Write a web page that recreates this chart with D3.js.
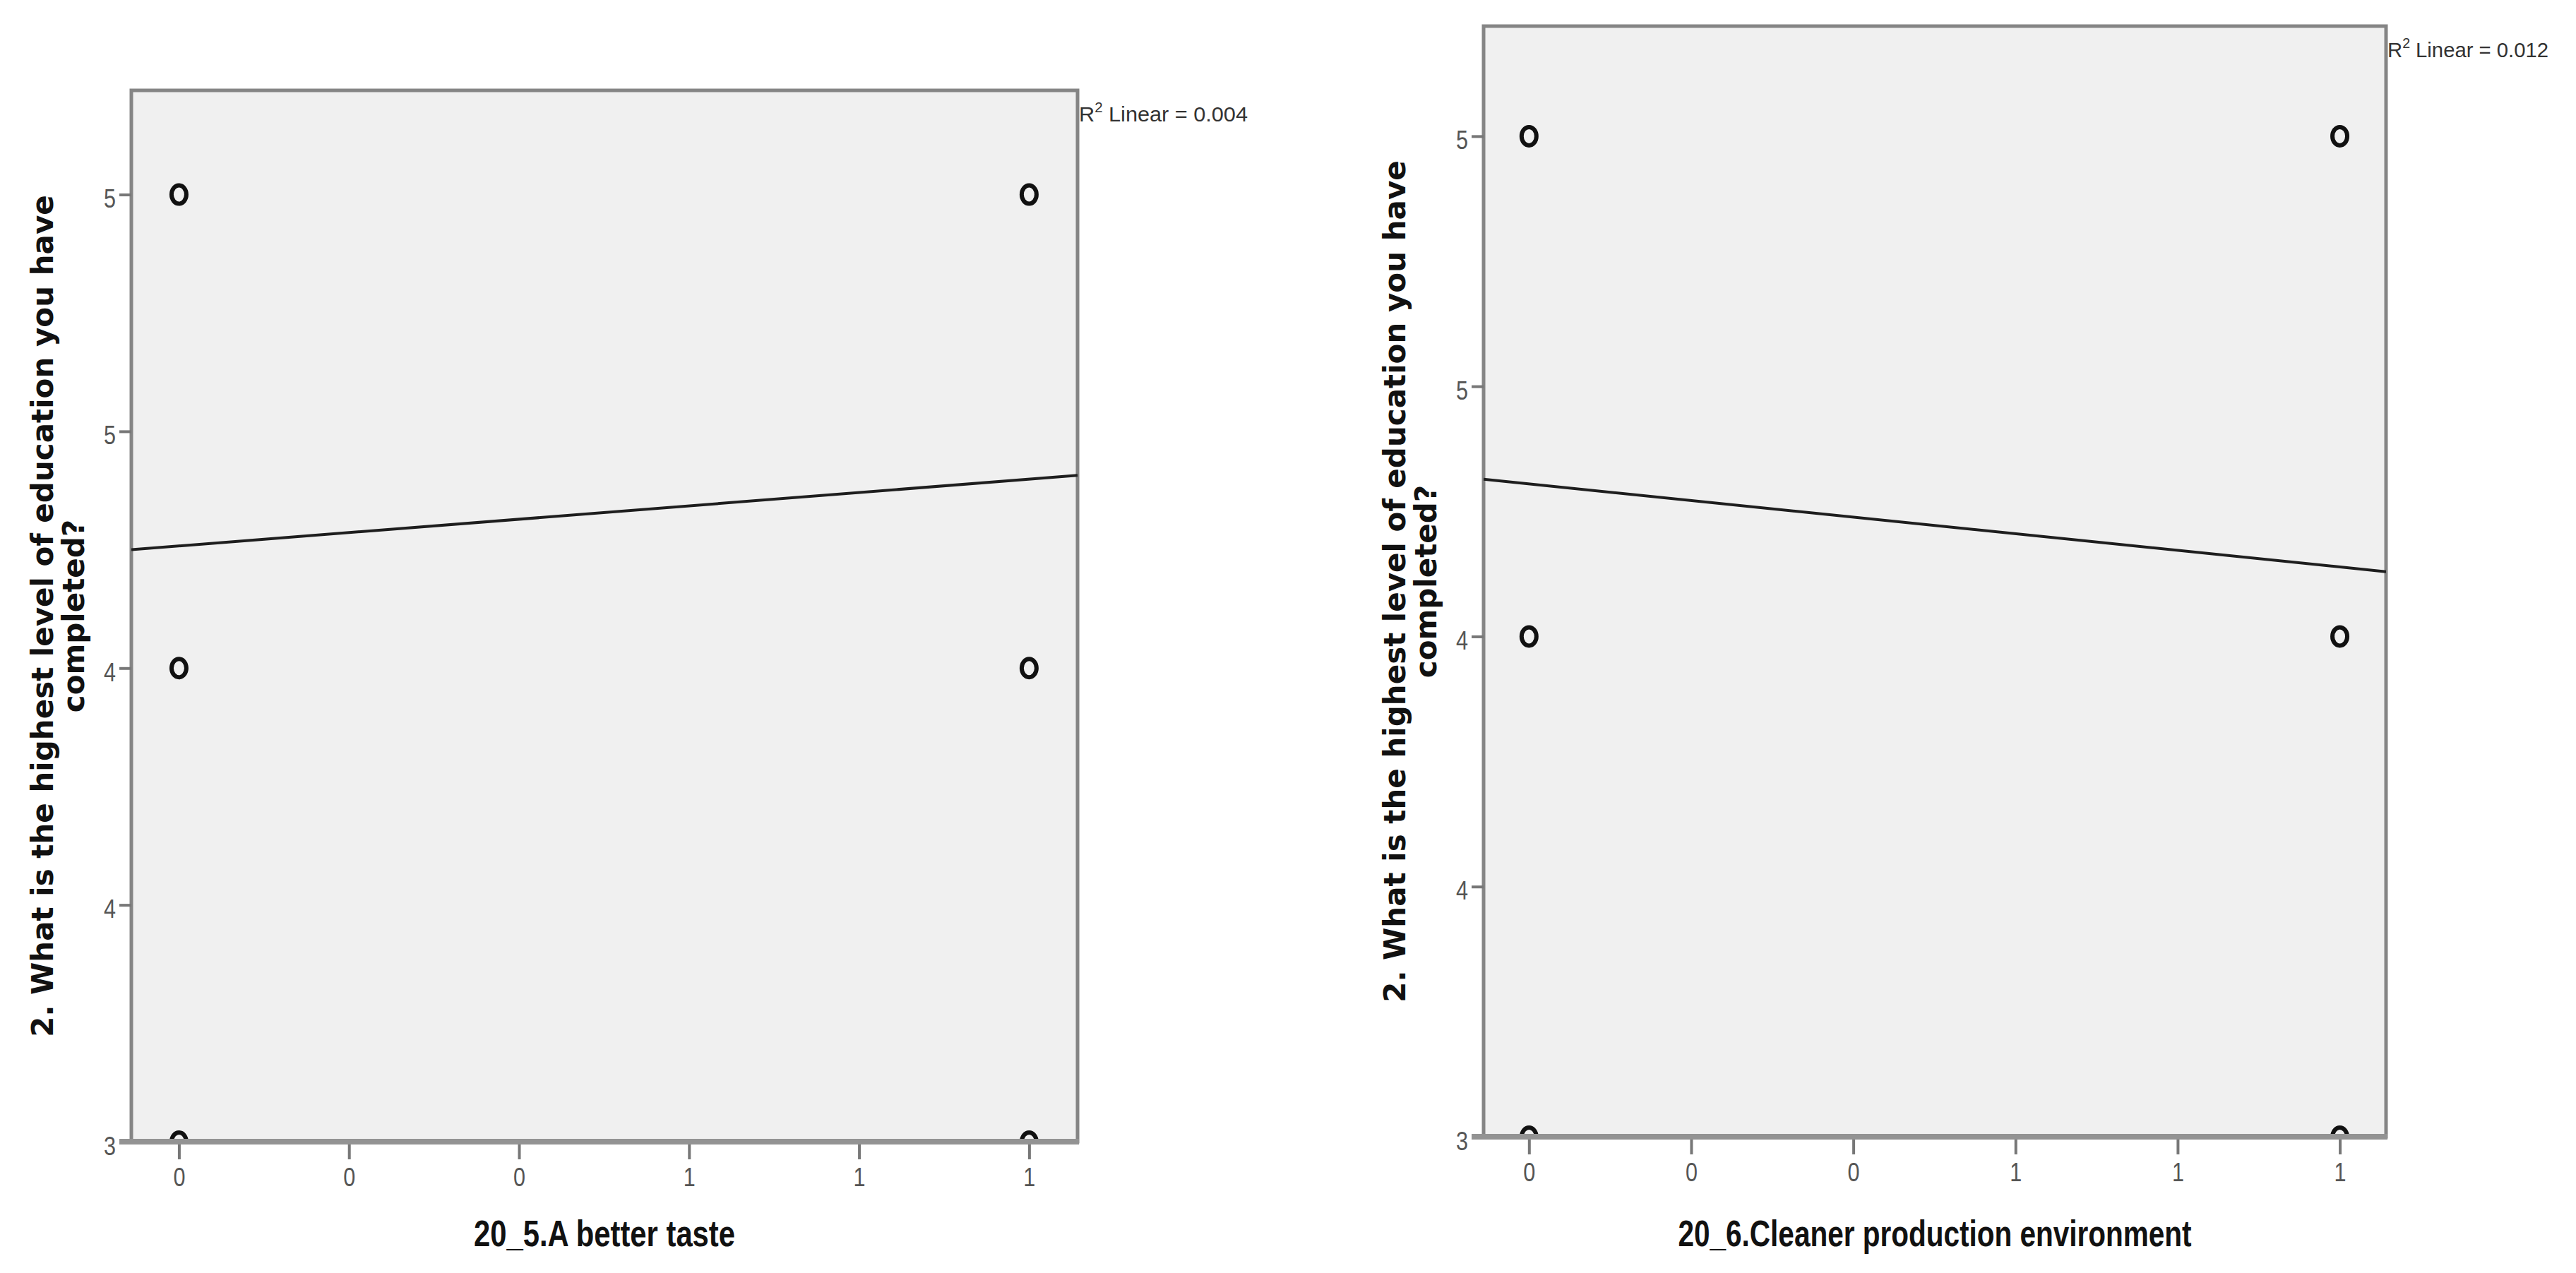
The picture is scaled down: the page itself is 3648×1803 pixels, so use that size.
<!DOCTYPE html>
<html>
<head>
<meta charset="utf-8">
<script src="https://cdn.jsdelivr.net/npm/d3@7"></script>
<style>
  body { margin: 0; background: #fff; }
</style>
</head>
<body>
<script>
// data
const xTitles = ['20_5.A better taste', '20_6.Cleaner production environment'];
const yTitleLines = ['2. What is the highest level of education you have', 'completed?'];
const pointX = [0, 0, 0, 1, 1, 1];
const pointYLeft = [5, 4, 3, 5, 4, 3];
const pointYRight = [5, 4, 3, 5, 4, 3];
const fitIntercept = [4.258, 4.305];
const fitSlope = [0.141, -0.166];
const rSquared = ['0.004', '0.012'];
const xTickValues = [0, 0.2, 0.4, 0.6, 0.8, 1];
const xTickLabels = ['0', '0', '0', '1', '1', '1'];
const yTickValues = [3, 3.5, 4, 4.5, 5];
const yTickLabels = ['3', '4', '4', '5', '5'];
const xDomain = [-0.056, 1.057];
const yDomain = [3, 5.22];

const width = 3648;
const height = 1803;

// layout of the two panels
const frames = [
  { x0: 186, x1: 1526, y0: 128, y1: 1617, titleW: 370, rW: 239 },
  { x0: 2101, x1: 3379, y0: 37, y1: 1610, titleW: 727, rW: 228 },
];
const pointSets = [pointYLeft, pointYRight];

const svg = d3.select('body').append('svg')
  .attr('width', width)
  .attr('height', height)
  .attr('viewBox', `0 0 ${width} ${height}`);

svg.append('rect')
  .attr('width', width)
  .attr('height', height)
  .attr('fill', '#fff');

frames.forEach((f, i) => {
  const x = d3.scaleLinear().domain(xDomain).range([f.x0, f.x1]);
  const y = d3.scaleLinear().domain(yDomain).range([f.y1, f.y0]);
  const g = svg.append('g');

  g.append('clipPath')
    .attr('id', `clip${i}`)
    .append('rect')
    .attr('x', f.x0)
    .attr('y', f.y0)
    .attr('width', f.x1 - f.x0)
    .attr('height', f.y1 - f.y0);

  g.append('rect')
    .attr('x', f.x0)
    .attr('y', f.y0)
    .attr('width', f.x1 - f.x0)
    .attr('height', f.y1 - f.y0)
    .attr('fill', '#f0f0f0')
    .attr('stroke', '#858585')
    .attr('stroke-width', 5);

  const plot = g.append('g').attr('clip-path', `url(#clip${i})`);

  const fit = d3.line()
    .x(d => x(d))
    .y(d => y(fitIntercept[i] + fitSlope[i] * d));

  plot.append('path')
    .attr('d', fit(xDomain))
    .attr('fill', 'none')
    .attr('stroke', '#1e1e1e')
    .attr('stroke-width', 4);

  plot.selectAll('ellipse')
    .data(pointX.map((v, k) => [v, pointSets[i][k]]))
    .join('ellipse')
    .attr('cx', d => x(d[0]))
    .attr('cy', d => y(d[1]))
    .attr('rx', 10.5)
    .attr('ry', 13)
    .attr('fill', 'none')
    .attr('stroke', '#111')
    .attr('stroke-width', 6);

  // bottom axis
  const xAxis = g.append('g')
    .attr('transform', `translate(0,${f.y1})`)
    .call(d3.axisBottom(x)
      .tickValues(xTickValues)
      .tickFormat((d, k) => xTickLabels[k])
      .tickSize(25)
      .tickPadding(12));
  xAxis.select('.domain').remove();

  const yAxis = g.append('g')
    .attr('transform', `translate(${f.x0},0)`)
    .call(d3.axisLeft(y)
      .tickValues(yTickValues)
      .tickFormat((d, k) => yTickLabels[k])
      .tickSize(17)
      .tickPadding(5));
  yAxis.select('.domain').remove();

  [xAxis, yAxis].forEach(ax => {
    ax.selectAll('line').attr('stroke', '#777').attr('stroke-width', 4);
    ax.selectAll('text')
      .attr('fill', '#555')
      .attr('font-family', 'Liberation Sans, Arial, sans-serif')
      .attr('font-size', 36)
      .attr('textLength', 17)
      .attr('lengthAdjust', 'spacingAndGlyphs');
  });
  yAxis.selectAll('text').attr('dy', '0.5em');

  g.append('line')
    .attr('x1', f.x0 - 17)
    .attr('x2', f.x1 + 2)
    .attr('y1', f.y1)
    .attr('y2', f.y1)
    .attr('stroke', '#939393')
    .attr('stroke-width', 8);

  // R squared label
  const r = g.append('text')
    .attr('x', f.x1 + 2)
    .attr('y', f.y0 + 44)
    .attr('fill', '#333')
    .attr('font-family', 'Liberation Sans, Arial, sans-serif')
    .attr('font-size', 30)
    .attr('textLength', f.rW)
    .attr('lengthAdjust', 'spacingAndGlyphs');
  r.append('tspan').text('R');
  r.append('tspan').attr('font-size', 20).attr('dy', -13).text('2');
  r.append('tspan').attr('dy', 13).text(` Linear = ${rSquared[i]}`);

  // axis titles
  g.append('text')
    .attr('x', (f.x0 + f.x1) / 2)
    .attr('y', 1765)
    .attr('text-anchor', 'middle')
    .attr('fill', '#111')
    .attr('font-family', 'Liberation Sans, Arial, sans-serif')
    .attr('font-weight', 'bold')
    .attr('font-size', 52)
    .attr('textLength', f.titleW)
    .attr('lengthAdjust', 'spacingAndGlyphs')
    .text(xTitles[i]);

  const cy = (f.y0 + f.y1) / 2;
  yTitleLines.forEach((line, k) => {
    const bx = f.x0 - 111 + k * 44;
    g.append('text')
      .attr('transform', `translate(${bx},${cy}) rotate(-90)`)
      .attr('text-anchor', 'middle')
      .attr('fill', '#111')
      .attr('font-family', 'DejaVu Sans, Verdana, sans-serif')
      .attr('font-weight', 'bold')
      .attr('font-size', 42)
      .text(line);
  });
});
</script>
</body>
</html>
